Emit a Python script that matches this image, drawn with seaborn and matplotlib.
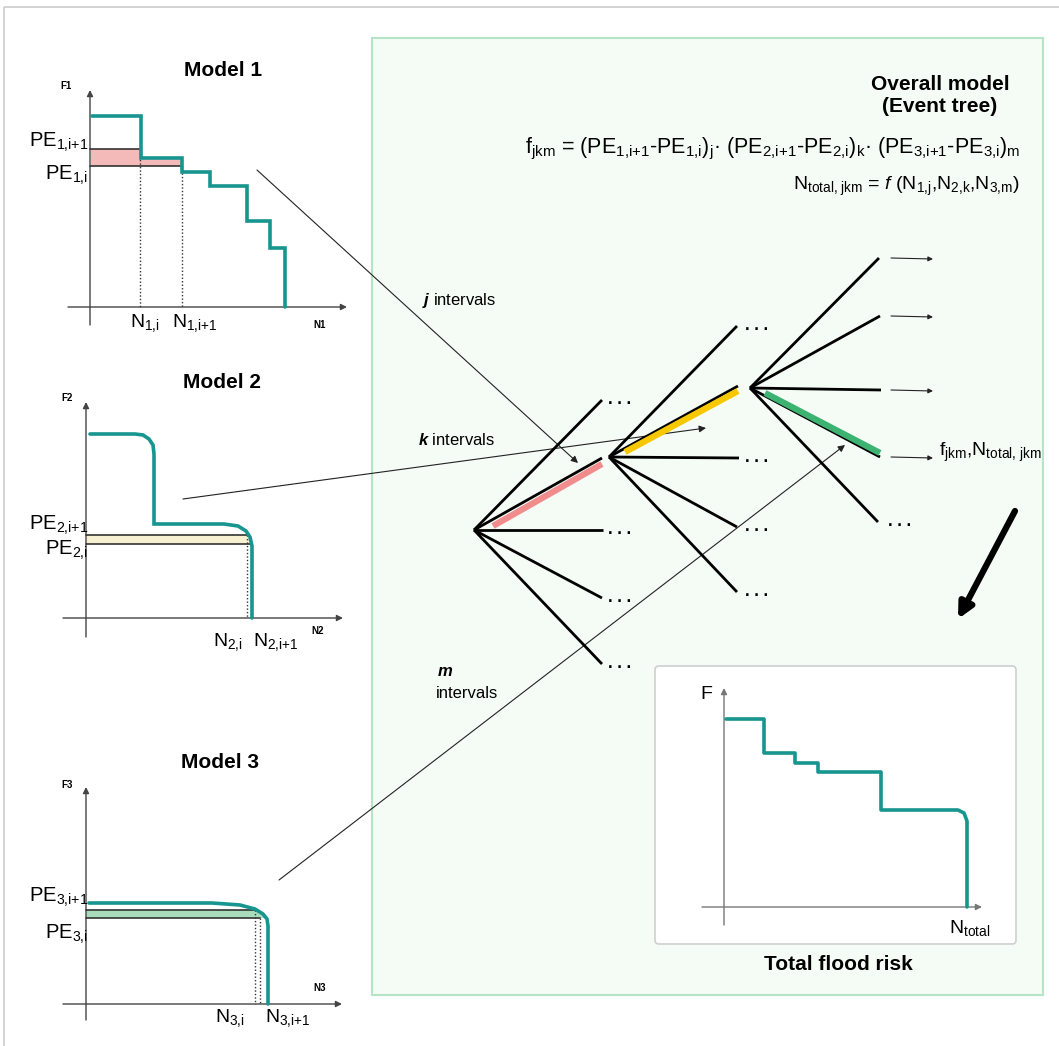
import matplotlib
matplotlib.use("Agg")
import matplotlib.pyplot as plt
import seaborn as sns
import pandas as pd
from matplotlib.patches import Rectangle, Polygon, FancyBboxPatch

sns.set_style("white")
plt.rcParams['font.family'] = ['Liberation Sans', 'DejaVu Sans']
plt.rcParams['text.color'] = 'black'
plt.rcParams['mathtext.fontset'] = 'custom'
plt.rcParams['mathtext.rm'] = 'Liberation Sans'
plt.rcParams['mathtext.it'] = 'Liberation Sans:italic'
plt.rcParams['mathtext.bf'] = 'Liberation Sans:bold'
plt.rcParams['mathtext.bfit'] = 'Liberation Sans:italic:bold'

TEAL = "#17958f"

# ---------------- data (picture pixel coordinates) ----------------
# model 1 : stepped exceedance curve
m1_n = [92, 141, 141, 182, 182, 210, 210, 247, 247, 270, 270, 285, 285]
m1_f = [116, 116, 158, 158, 172, 172, 186, 186, 221, 221, 248, 248, 307]
m1_pe = [149, 166]          # PE_1,i+1 , PE_1,i
m1_nn = [140, 182]          # N_1,i , N_1,i+1

# model 2 : smooth curve
m2_n = [90, 135, 143, 149, 153, 154, 154, 224, 238, 246, 250, 252, 252]
m2_f = [434, 434, 435, 439, 445, 454, 524, 524, 526, 531, 537, 546, 618]
m2_pe = [535, 544]
m2_nn = [247, 251]

# model 3 : smooth curve
m3_n = [89, 212, 240, 255, 263, 267, 268, 268]
m3_f = [903, 903, 905, 909, 914, 919, 926, 1004]
m3_pe = [910, 918]
m3_nn = [255, 260]

# total flood risk curve
tot_n = [726, 764, 764, 795, 795, 818, 818, 881, 881, 958, 964, 967, 967]
tot_f = [719, 719, 753, 753, 763, 763, 772, 772, 810, 810, 813, 821, 907]

# event tree
root = (474, 530)
root_ends = [(602, 400), (602, 458), (603, 530), (602, 598), (602, 664)]
node2 = (609, 457)
node2_ends = [(737, 326), (738, 386), (739, 458), (737, 527), (737, 592)]
node3 = (750, 388)
node3_ends = [(879, 258), (880, 316), (881, 390), (880, 457), (878, 522)]
highlights = [((493, 526), (602, 464), "#f08c8c"),
              ((625, 452), (738, 391), "#f7c800"),
              ((765, 393), (880, 453), "#3cb371")]

# ---------------- figure ----------------
fig = plt.figure(figsize=(10.59, 10.46), dpi=100)
ax = fig.add_axes([0, 0, 1, 1])
ax.set_xlim(0, 1059)
ax.set_ylim(1046, 0)
ax.axis('off')


def arrow(p0, p1, lw=1.0, color="#444444", ms=9, style="-|>"):
    ax.annotate("", xy=p1, xytext=p0,
                arrowprops=dict(arrowstyle=style, color=color, lw=lw,
                                mutation_scale=ms, shrinkA=0, shrinkB=0))


def line(p0, p1, **kw):
    ax.plot([p0[0], p1[0]], [p0[1], p1[1]], **kw)


def sub(s):
    # subscript without math spacing around commas / plus signs
    s = s.replace(",", "{,}").replace("+", "{+}").replace(" ", r"\ ")
    return r"$_{\mathregular{" + s + "}}$"


# outer frame and green panel
ax.add_patch(Rectangle((4, 7), 1060, 1045, fill=False, ec="#cccccc", lw=1.2))
ax.add_patch(Rectangle((372, 38), 671, 957, fc="#f5fcf6", ec="#b5e5c6", lw=1.5))

# ---------- model charts ----------
def model_chart(n, f, pe, nn, yaxis, xaxis, fill_poly, fill_col):
    ax.add_patch(Polygon(fill_poly, closed=True, fc=fill_col, ec="none", zorder=2))
    arrow(yaxis[0], yaxis[1], lw=1.0, ms=9)
    arrow(xaxis[0], xaxis[1], lw=1.0, ms=9)
    x0 = yaxis[0][0]
    line((x0, pe[0]), (nn[0], pe[0]), color="#333333", lw=1.2, zorder=3)
    line((x0, pe[1]), (nn[1], pe[1]), color="#333333", lw=1.2, zorder=3)
    base = xaxis[0][1]
    line((nn[0], pe[0]), (nn[0], base), color="#333333", lw=1, ls=(0, (1, 1.5)), zorder=3)
    line((nn[1], pe[1]), (nn[1], base), color="#333333", lw=1, ls=(0, (1, 1.5)), zorder=3)
    df = pd.DataFrame({"N": n, "F": f})
    sns.lineplot(data=df, x="N", y="F", sort=False, estimator=None, ax=ax,
                 color=TEAL, lw=2.6, zorder=4, solid_joinstyle="miter")


model_chart(m1_n, m1_f, m1_pe, m1_nn, ((90, 325), (90, 90)), ((68, 307), (347, 307)),
            [(91, 149), (141, 149), (141, 158), (182, 158), (182, 166), (91, 166)], "#f4b9b9")
model_chart(m2_n, m2_f, m2_pe, m2_nn, ((86, 637), (86, 402)), ((63, 618), (343, 618)),
            [(86, 535), (250, 535), (252, 544), (86, 544)], "#f7f1d2")
model_chart(m3_n, m3_f, m3_pe, m3_nn, ((86, 1020), (86, 787)), ((63, 1004), (342, 1004)),
            [(86, 910), (257, 910), (264, 914), (266, 918), (86, 918)], "#a8dcbb")

ax.set_xlabel("")
ax.set_ylabel("")

# model texts
for t, (x, y) in zip(["Model 1", "Model 2", "Model 3"], [(223, 70), (222, 383), (220, 762)]):
    ax.text(x, y, t, ha="center", va="center", fontsize=15, fontweight="bold")
for t, (x, y) in zip(["F1", "F2", "F3"], [(66, 86), (67, 398), (67, 785)]):
    ax.text(x, y, t, ha="center", va="center", fontsize=7, fontweight="bold")
for t, (x, y) in zip(["N1", "N2", "N3"], [(320, 325), (318, 631), (320, 988)]):
    ax.text(x, y, t, ha="center", va="center", fontsize=7, fontweight="bold")

pe_labels = [("PE" + sub("1,i+1"), 147), ("PE" + sub("1,i"), 180),
             ("PE" + sub("2,i+1"), 530), ("PE" + sub("2,i"), 555),
             ("PE" + sub("3,i+1"), 902), ("PE" + sub("3,i"), 939)]
for t, y in pe_labels:
    ax.text(88, y, t, ha="right", va="baseline", fontsize=14.5)

n_labels = [("N" + sub("1,i"), 130, 327), ("N" + sub("1,i+1"), 172, 327),
            ("N" + sub("2,i"), 213, 646), ("N" + sub("2,i+1"), 253, 646),
            ("N" + sub("3,i"), 215, 1022), ("N" + sub("3,i+1"), 265, 1022)]
for t, x, y in n_labels:
    ax.text(x, y, t, ha="left", va="baseline", fontsize=14)

# ---------- overall model ----------
ax.text(940, 84, "Overall model", ha="center", va="center", fontsize=15, fontweight="bold")
ax.text(940, 106, "(Event tree)", ha="center", va="center", fontsize=15, fontweight="bold")
ax.text(1020, 153,
        "f" + sub("jkm") + " = (PE" + sub("1,i+1") + "-PE" + sub("1,i") + ")" + sub("j") + "· "
        "(PE" + sub("2,i+1") + "-PE" + sub("2,i") + ")" + sub("k") + "· "
        "(PE" + sub("3,i+1") + "-PE" + sub("3,i") + ")" + sub("m"),
        ha="right", va="baseline", fontsize=15.5)
ax.text(1020, 190,
        "N" + sub("total, jkm") + r" = $\mathit{f}$ (N" + sub("1,j") + ",N" + sub("2,k") + ",N" + sub("3,m") + ")",
        ha="right", va="baseline", fontsize=14)

# tree branches
for node, ends in [(root, root_ends), (node2, node2_ends), (node3, node3_ends)]:
    for e in ends:
        line(node, e, color="black", lw=2, zorder=5, solid_capstyle="butt")
for p0, p1, c in highlights:
    line(p0, p1, color=c, lw=4.5, zorder=5, solid_capstyle="butt")

dots = [(608, y) for i, (_, y) in enumerate(root_ends) if i != 1] + \
       [(745, y) for i, (_, y) in enumerate(node2_ends) if i != 1] + [(888, node3_ends[4][1])]
for x, y in dots:
    ax.text(x, y + 4, ". . .", ha="left", va="baseline", fontsize=12, fontweight="bold")

for i in range(4):
    y = node3_ends[i][1]
    arrow((891, y), (933, y + 1), lw=0.8, color="#222222", ms=7)
ax.text(939, 452, "f" + sub("jkm") + ",N" + sub("total, jkm"),
        ha="left", va="center", fontsize=14)

# interval labels
ax.text(422, 300, r"$\mathbfit{j}$ intervals", ha="left", va="center", fontsize=12)
ax.text(418, 440, r"$\mathbfit{k}$ intervals", ha="left", va="center", fontsize=12)
ax.text(437, 672, r"$\mathbfit{m}$", ha="left", va="center", fontsize=12)
ax.text(436, 693, "intervals", ha="left", va="center", fontsize=12)

# cross arrows from models to tree
arrow((257, 170), (578, 463), lw=0.8, color="#222222", ms=10)
arrow((183, 499), (706, 428), lw=0.8, color="#222222", ms=10)
arrow((279, 880), (845, 445), lw=0.8, color="#222222", ms=10)

# big arrow to total flood risk
arrow((1015, 511), (958, 619), lw=4.5, color="black", ms=22)

# ---------- total flood risk inset ----------
ax.add_patch(FancyBboxPatch((655, 666), 361, 278, boxstyle="round,pad=0,rounding_size=4",
                            fc="white", ec="#cfcfcf", lw=1.2, zorder=2))
arrow((724, 925), (724, 688), lw=1.0, color="#777777", ms=9)
arrow((702, 907), (982, 907), lw=1.0, color="#777777", ms=9)
df_tot = pd.DataFrame({"N": tot_n, "F": tot_f})
sns.lineplot(data=df_tot, x="N", y="F", sort=False, estimator=None, ax=ax,
             color=TEAL, lw=2.6, zorder=4)
ax.set_xlabel("")
ax.set_ylabel("")
ax.text(700, 699, "F", ha="left", va="baseline", fontsize=14)
ax.text(949, 933, "N" + sub("total"), ha="left", va="baseline", fontsize=14)
ax.text(838, 965, "Total flood risk", ha="center", va="center", fontsize=15, fontweight="bold")

ax.set_xlim(0, 1059)
ax.set_ylim(1046, 0)
fig.savefig("out.png", dpi=100)
